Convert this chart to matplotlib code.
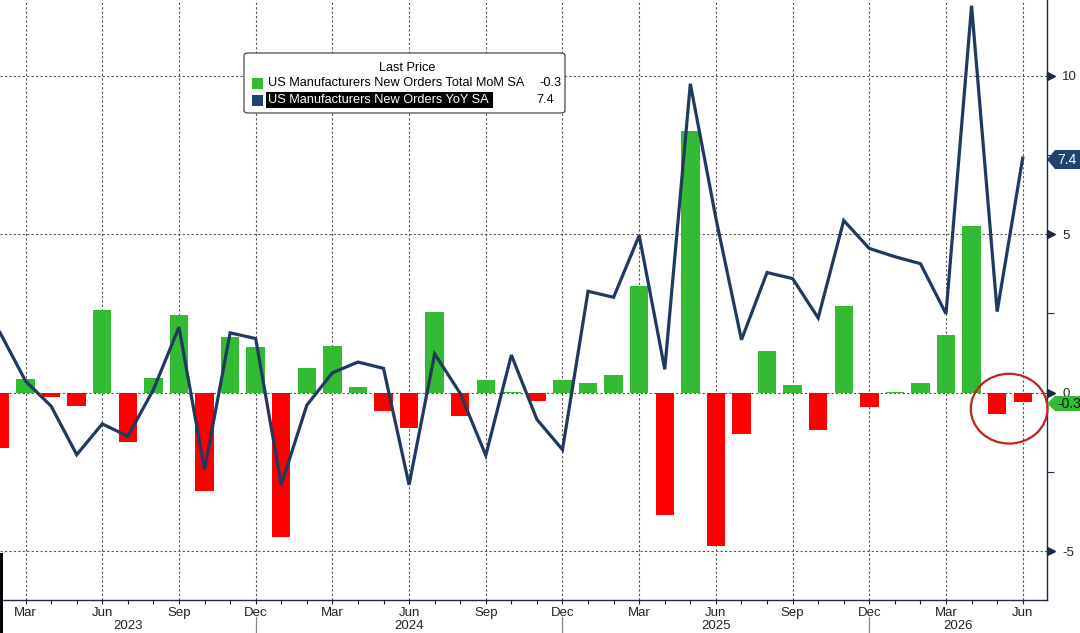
import numpy as np
import matplotlib
matplotlib.use("Agg")
import matplotlib.pyplot as plt
from matplotlib.patches import Ellipse, Polygon, FancyBboxPatch, Rectangle
import matplotlib.transforms as mtransforms

plt.rcParams.update({
    "font.family": ["Liberation Sans", "DejaVu Sans"],
    "font.size": 9,
    "axes.unicode_minus": False,
})

# --- Data: Feb 2023 .. Jun 2026 (monthly) ---
months = ["Feb", "Mar", "Apr", "May", "Jun", "Jul", "Aug", "Sep", "Oct", "Nov", "Dec",
          "Jan", "Feb", "Mar", "Apr", "May", "Jun", "Jul", "Aug", "Sep", "Oct", "Nov", "Dec",
          "Jan", "Feb", "Mar", "Apr", "May", "Jun", "Jul", "Aug", "Sep", "Oct", "Nov", "Dec",
          "Jan", "Feb", "Mar", "Apr", "May", "Jun"]

mom = [-1.75, 0.42, -0.14, -0.42, 2.60, -1.56, 0.48, 2.44, -3.10, 1.75, 1.43,
       -4.55, 0.77, 1.46, 0.17, -0.58, -1.12, 2.56, -0.74, 0.39, 0.03, -0.26, 0.41,
       0.30, 0.56, 3.37, -3.84, 8.26, -4.82, -1.29, 1.33, 0.26, -1.16, 2.75, -0.44,
       0.03, 0.32, 1.83, 5.25, -0.68, -0.30]

yoy = [1.90, 0.37, -0.42, -1.95, -0.98, -1.37, 0.10, 2.07, -2.42, 1.89, 1.71,
       -2.90, -0.39, 0.63, 0.97, 0.77, -2.90, 1.23, -0.02, -1.97, 1.19, -0.84, -1.79,
       3.20, 3.01, 4.96, 0.74, 9.74, 5.50, 1.67, 3.79, 3.60, 2.36, 5.43, 4.55,
       4.29, 4.07, 2.49, 12.20, 2.56, 7.40]

years = ["2023", "2024", "2025", "2026"]
quarter_months = ["Mar", "Jun", "Sep", "Dec"]

GREEN = "#33bb33"
RED = "#ff0000"
NAVY = "#1e3a5f"
GRID = "#555555"

x = np.arange(len(months))
mom = np.array(mom)

W, H = 1080, 633
fig = plt.figure(figsize=(W / 100, H / 100), dpi=100)
ax = fig.add_axes([0, 33 / H, 1047 / W, 600 / H])

def fx(px):
    return px / W

def fy(py):
    return 1 - py / H

# bars + line
colors = [GREEN if v >= 0 else RED for v in mom]
ax.bar(x, mom, width=0.72, color=colors, zorder=2)
ax.plot(x, yoy, color=NAVY, lw=2.3, zorder=3, solid_joinstyle="miter")

ax.set_xlim(0.166, 40.95)
ax.set_ylim(-6.53, 12.38)

# grid
q_idx = [i for i, m in enumerate(months) if m in quarter_months]
ax.set_xticks(q_idx)
ax.set_xticklabels([months[i] for i in q_idx])
ax.set_xticks(x, minor=True)
ax.set_yticks([-5, 0, 5, 10])
ax.set_yticks([-2.5, 2.5, 7.5], minor=True)
ax.grid(True, which="major", color=GRID, linestyle=(0, (2, 2)), lw=0.8, zorder=1)

ax.yaxis.tick_right()
ax.tick_params(axis="y", which="major", length=0, pad=11, labelsize=9.5, colors="#222222")
ax.tick_params(axis="y", which="minor", length=5, width=0.8, color="#1a2a40", direction="out")
ax.tick_params(axis="x", which="both", length=3, width=0.8, direction="out", pad=2,
               labelsize=9.5, colors="#222222")

for s in ["top", "left"]:
    ax.spines[s].set_visible(False)
ax.spines["right"].set_color("#1a2a40")
ax.spines["bottom"].set_color("#1a2a40")
ax.spines["right"].set_linewidth(1.0)
ax.spines["bottom"].set_linewidth(1.0)

# triangle markers for the right-axis major ticks
trans_r = mtransforms.blended_transform_factory(ax.transAxes, ax.transData)
ax.plot([1.004] * 4, [-5, 0, 5, 10], marker=">", ms=6, ls="none", color="#1a2a40",
        transform=trans_r, clip_on=False, zorder=5)

# year separators and labels
trans_b = mtransforms.blended_transform_factory(ax.transData, ax.transAxes)
dec_idx = [i for i, m in enumerate(months) if m == "Dec"]
for i in dec_idx:
    ax.plot([i, i], [-0.028, -0.06], color="#888888", lw=0.9, transform=trans_b, clip_on=False)
bounds = [ax.get_xlim()[0]] + dec_idx + [ax.get_xlim()[1]]
for k, yr in enumerate(years):
    ax.text((bounds[k] + bounds[k + 1]) / 2, -0.044, yr, transform=trans_b,
            ha="center", va="center", fontsize=9.5, color="#222222")

# circle round the last two bars
ax.add_patch(Ellipse((39.47, -0.5), 3.0, 2.2, fill=False, ec="#c42020", lw=1.6,
                     zorder=6, clip_on=False))

# right value tags
def tag(py0, py1, color, text, tcolor):
    pts = [(fx(1047), fy((py0 + py1) / 2)), (fx(1055), fy(py0)), (fx(1085), fy(py0)),
           (fx(1085), fy(py1)), (fx(1055), fy(py1))]
    fig.patches.append(Polygon(pts, closed=True, fc=color, ec="none",
                               transform=fig.transFigure, zorder=10))
    fig.text(fx(1057), fy((py0 + py1) / 2), text, color=tcolor, fontsize=10,
             ha="left", va="center", zorder=11)

tag(150, 169, "#1f4470", f"{yoy[-1]:.1f}", "white")
tag(396, 411, GREEN, f"{mom[-1]:.1f}", "#111111")

# legend box
fs = 9.2
fig.patches.append(FancyBboxPatch((fx(244), fy(113)), fx(565) - fx(244), fy(53) - fy(113),
                                  boxstyle="round,pad=0,rounding_size=0.004",
                                  fc="white", ec="#333333", lw=0.8,
                                  transform=fig.transFigure, zorder=8))
fig.text(fx(407), fy(68), "Last Price", ha="center", va="center", fontsize=fs, zorder=9)
fig.patches.append(Rectangle((fx(252), fy(89)), fx(11), 11 / H, fc=GREEN, ec="none",
                             transform=fig.transFigure, zorder=9))
fig.patches.append(Rectangle((fx(252), fy(106)), fx(11), 11 / H, fc="#1f4470", ec="none",
                             transform=fig.transFigure, zorder=9))
fig.patches.append(Rectangle((fx(266), fy(108)), fx(227), 16 / H, fc="black", ec="none",
                             transform=fig.transFigure, zorder=9))
fig.text(fx(268), fy(83.5), "US Manufacturers New Orders Total MoM SA", ha="left",
         va="center", fontsize=fs, zorder=10)
fig.text(fx(268), fy(100), "US Manufacturers New Orders YoY SA", ha="left",
         va="center", fontsize=fs, color="white", zorder=10)
fig.text(fx(561), fy(83.5), f"{mom[-1]:.1f}", ha="right", va="center", fontsize=fs, zorder=10)
fig.text(fx(554), fy(100), f"{yoy[-1]:.1f}", ha="right", va="center", fontsize=fs, zorder=10)

# thin dark strip at the lower left edge
fig.patches.append(Rectangle((0, 0), fx(3), fy(553), fc="black", ec="none",
                             transform=fig.transFigure, zorder=10))

fig.savefig("out.png", dpi=100)
